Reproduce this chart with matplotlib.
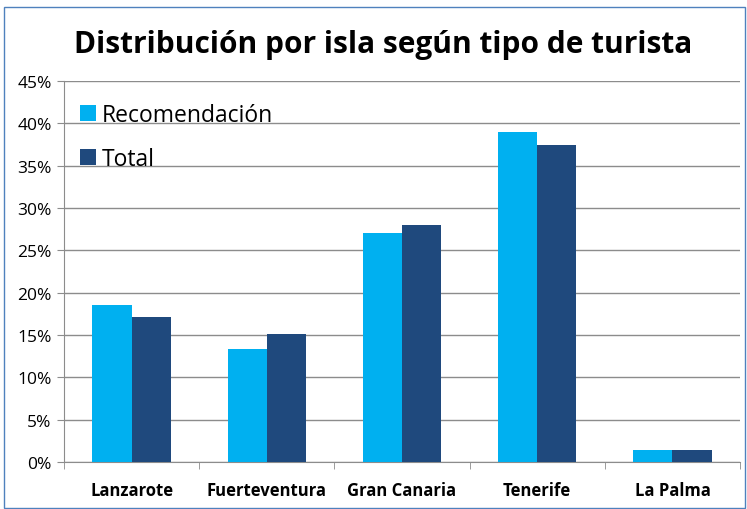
import matplotlib.pyplot as plt
import numpy as np
from matplotlib.patches import Rectangle
from matplotlib.ticker import MultipleLocator, PercentFormatter

islas = ["Lanzarote", "Fuerteventura", "Gran Canaria", "Tenerife", "La Palma"]
recomendacion = [18.5, 13.3, 27.0, 39.0, 1.4]
total = [17.1, 15.1, 28.0, 37.5, 1.4]

plt.rcParams["font.family"] = ["Open Sans", "DejaVu Sans"]

fig = plt.figure(figsize=(7.47, 5.10), dpi=100)
ax = fig.add_axes([0.0857, 0.0922, 0.905, 0.747])

x = np.arange(len(islas))
w = 0.29
ax.bar(x - w / 2, recomendacion, w, color="#00B0F0", label="Recomendación", zorder=3)
ax.bar(x + w / 2, total, w, color="#1F497D", label="Total", zorder=3)

ax.set_xlim(-0.5, len(islas) - 0.5)
ax.set_ylim(0, 45)
ax.yaxis.set_major_locator(MultipleLocator(5))
ax.yaxis.set_major_formatter(PercentFormatter(decimals=0))
ax.grid(axis="y", color="#8C8C8C", linewidth=1, zorder=0)

ax.set_xticks(x)
ax.set_xticklabels(islas, fontweight="bold", fontsize=12)
ax.set_xticks(np.arange(len(islas) + 1) - 0.5, minor=True)
ax.tick_params(axis="x", which="major", length=0, pad=14)
ax.tick_params(axis="x", which="minor", length=5, color="#8C8C8C")
ax.tick_params(axis="y", length=5, color="#8C8C8C", labelsize=12.5, pad=4)

for s in ["top", "right"]:
    ax.spines[s].set_visible(False)
ax.spines["left"].set_color("#8C8C8C")
ax.spines["bottom"].set_color("#8C8C8C")

ax.legend(loc="upper left", bbox_to_anchor=(0.0, 0.985), frameon=False,
          fontsize=16.5, handlelength=0.7, handleheight=0.7,
          handletextpad=0.25, labelspacing=0.9, borderaxespad=0.3)

fig.text(0.513, 0.912, "Distribución por isla según tipo de turista",
         ha="center", va="center", fontsize=21.5, fontweight="bold")

fig.patches.append(Rectangle((4 / 747, 1 / 510), 741 / 747, 501 / 510,
                             transform=fig.transFigure, fill=False,
                             edgecolor="#4F81BD", linewidth=1))

fig.savefig("out.png", dpi=100)
